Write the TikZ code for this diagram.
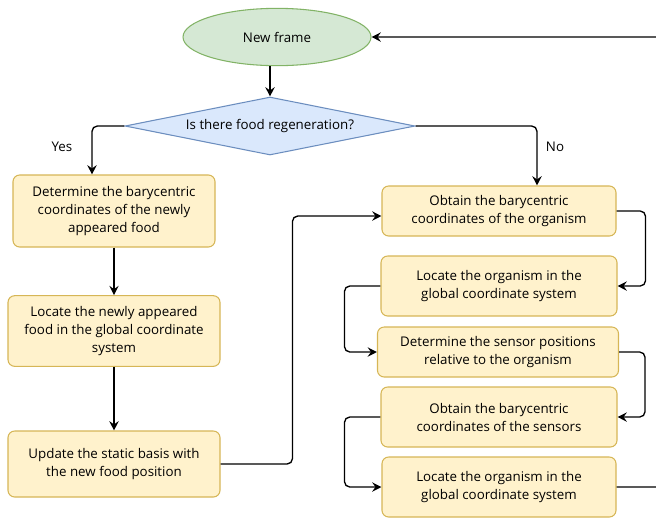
\documentclass[tikz,border=0pt]{standalone}
\usepackage{fontspec}
\setmainfont{Open Sans}
\usetikzlibrary{arrows.meta,shapes.geometric}
\definecolor{startfill}{HTML}{D5E8D4}
\definecolor{startline}{HTML}{82B366}
\definecolor{askfill}{HTML}{DAE8FC}
\definecolor{askline}{HTML}{6C8EBF}
\definecolor{boxfill}{HTML}{FFF2CC}
\definecolor{boxline}{HTML}{D6B656}

\begin{document}
\begin{tikzpicture}[x=0.75pt,y=-0.75pt,>={Stealth[length=7pt,width=7pt,inset=2.5pt]},
  every node/.style={font=\fontsize{10}{13.5}\selectfont},
  stepbox/.style={draw=boxline,fill=boxfill,rounded corners=5pt,align=center,inner sep=2pt,line width=0.8pt},
  flow/.style={->,line width=1pt,rounded corners=4pt}]
\useasboundingbox (0,0) rectangle (656,519);
\clip (0,0) rectangle (656,519);
\node[ellipse,draw=startline,fill=startfill,line width=0.8pt,minimum width=141pt,minimum height=43pt] (s0) at (277,37) {New frame};
\node[diamond,draw=askline,fill=askfill,line width=0.8pt,aspect=5,inner sep=0pt,minimum width=217.5pt,minimum height=43.5pt] (s1) at (270,126) {Is there food regeneration?};
\node (yes) at (62,147) {Yes};
\node (no) at (555,147) {No};
% left column
\node[stepbox,minimum width=151.5pt,minimum height=54pt] (l1) at (114,211) {Determine the barycentric\\coordinates of the newly\\appeared food};
\node[stepbox,minimum width=159pt,minimum height=53pt] (l2) at (114,331) {Locate the newly appeared\\food in the global coordinate\\system};
\node[stepbox,minimum width=159pt,minimum height=49.5pt] (l3) at (114,464) {Update the static basis with\\the new food position};
% right column
\node[stepbox,minimum width=175.5pt,minimum height=37.5pt] (r1) at (499,211) {Obtain the barycentric\\coordinates of the organism};
\node[stepbox,minimum width=177pt,minimum height=45pt] (r2) at (499,286) {Locate the organism in the\\global coordinate system};
\node[stepbox,minimum width=180.75pt,minimum height=37.5pt] (r3) at (498,352) {Determine the sensor positions\\relative to the organism};
\node[stepbox,minimum width=177pt,minimum height=45pt] (r4) at (499,417) {Obtain the barycentric\\coordinates of the sensors};
\node[stepbox,minimum width=175.5pt,minimum height=45pt] (r5) at (499,487) {Locate the organism in the\\global coordinate system};
\draw[flow] (s1.north |- s0.south) -- (s1.north);
\draw[flow] (s1.west) -| ([xshift=-16.5pt]l1.north);
\draw[flow] (s1.east) -| ([xshift=28.5pt]r1.north);
\draw[flow] (l1) -- (l2);
\draw[flow] (l2) -- (l3);
\draw[flow] (l3.east) -| ([xshift=-66.75pt,yshift=-3.75pt]r1.west) -- ([yshift=-3.75pt]r1.west);
\draw[flow] (r1.east) -- ++(29,0) |- (r2.east);
\draw[flow] (r2.west) -- ++(-36,0) |- (r3.west);
\draw[flow] (r3.east) -- ++(26,0) |- (r4.east);
\draw[flow] (r4.west) -- ++(-36,0) |- (r5.west);
\draw[flow] (r5.east) -- ++(45,0) |- (s0.east);
\end{tikzpicture}
\end{document}
